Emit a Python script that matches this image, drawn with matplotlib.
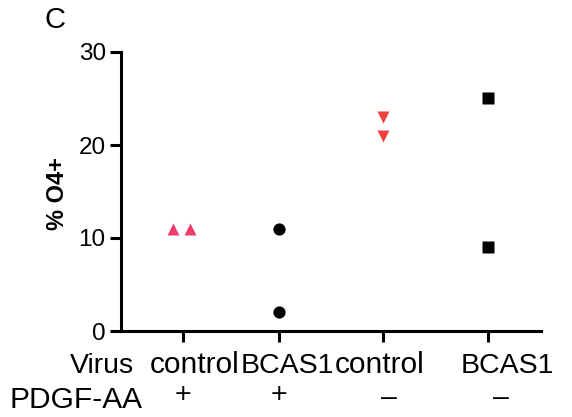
import matplotlib
matplotlib.use("Agg")
import matplotlib.pyplot as plt

plt.rcParams["font.family"] = ["Liberation Sans", "DejaVu Sans"]

# Data (% O4+ per condition)
virus = ["control", "BCAS1", "control", "BCAS1"]
pdgf = ["+", "+", "–", "–"]
ctrl_pdgf = [11, 11]
bcas1_pdgf = [11, 2]
ctrl_nopdgf = [23, 21]
bcas1_nopdgf = [25, 9]

yticks = [0, 10, 20, 30]

# layout
xpos = [1, 1.94, 2.97, 4.0]
W, H = 572, 417


def fx(px):
    return px / W


def fy(py):
    return 1 - py / H


fig = plt.figure(figsize=(5.72, 4.17), dpi=100)
ax = fig.add_axes([fx(121), fy(331), (541 - 121) / W, (331 - 52) / H])

ms = 8.8
ax.plot([xpos[0] - 0.098, xpos[0] + 0.069], ctrl_pdgf, "^", color="#EE3D6B",
        ms=ms, mec="none", clip_on=False)
ax.plot([xpos[1]] * len(bcas1_pdgf), bcas1_pdgf, "o", color="black",
        ms=ms, mec="none", clip_on=False)
ax.plot([xpos[2]] * len(ctrl_nopdgf), ctrl_nopdgf, "v", color="#F0413F",
        ms=ms, mec="none", clip_on=False)
ax.plot([xpos[3]] * len(bcas1_nopdgf), bcas1_nopdgf, "s", color="black",
        ms=ms * 0.95, mec="none", clip_on=False)

ax.set_xlim(0.39, 4.52)
ax.set_ylim(0, 30)
ax.set_yticks(yticks)
ax.set_yticklabels([str(t) for t in yticks], fontsize=17.5)
ax.set_xticks(xpos)
ax.set_xticklabels([])

for s in ["top", "right"]:
    ax.spines[s].set_visible(False)
for s in ["left", "bottom"]:
    ax.spines[s].set_linewidth(2.2)
ax.tick_params(axis="both", width=2.2, length=8, pad=3, direction="out")

# category labels under the axis
row1_off = [0.11, 0.09, -0.04, 0.19]
row1_size = {"control": 21.5, "BCAS1": 20.5}
row2_off = [0.0, 0.0, 0.06, 0.13]
row2_base = {"+": 402.5, "–": 405}
xt = ax.get_xaxis_transform()
for i in range(len(virus)):
    ax.text(xpos[i] + row1_off[i], (331 - 373) / 279, virus[i], transform=xt,
            ha="center", va="baseline", fontsize=row1_size[virus[i]])
    ax.text(xpos[i] + row2_off[i], (331 - row2_base[pdgf[i]]) / 279, pdgf[i],
            transform=xt, ha="center", va="baseline", fontsize=20.5)

fig.text(fx(134), fy(373), "Virus", ha="right", va="baseline", fontsize=20.5)
fig.text(fx(143), fy(408), "PDGF-AA", ha="right", va="baseline", fontsize=21.5)

fig.text(fx(57), fy(193), "% O4+", rotation=90, ha="center", va="center",
         fontsize=17, fontweight="bold")
fig.text(fx(45), fy(28), "C", ha="left", va="baseline", fontsize=21)

fig.savefig("out.png", dpi=100)
